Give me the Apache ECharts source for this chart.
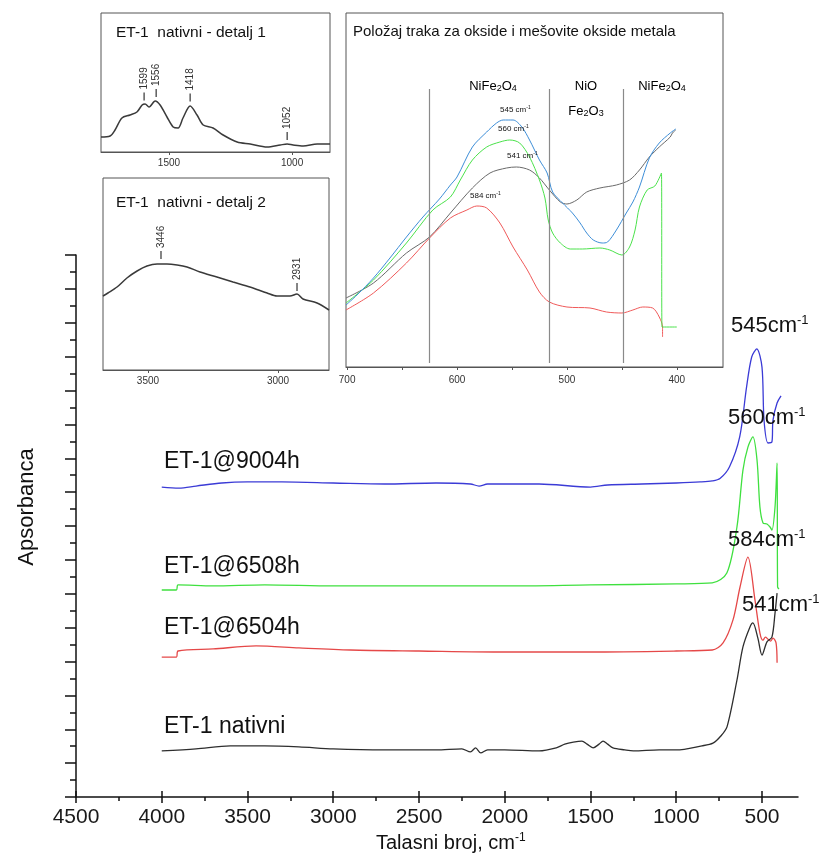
<!DOCTYPE html>
<html>
<head>
<meta charset="utf-8">
<script src="https://cdn.jsdelivr.net/npm/echarts@6.0.0/dist/echarts.min.js"></script>
<style>
  html, body { margin: 0; padding: 0; background: #fff; }
  #chart { width: 823px; height: 854px; }
</style>
</head>
<body>
<div id="chart"></div>
<script>
// ---- main spectra (x = wavenumber cm-1, y = stacked absorbance, arbitrary units) ----
const wn9004 = [4000, 3900, 3800, 3650, 3500, 3300, 3000, 2700, 2400, 2200, 2150, 2100, 1800, 1500, 1400, 1200, 1000, 860, 790, 745, 690, 630, 590, 560, 530, 500, 488, 465, 442, 436, 412, 389];
const abs9004 = [9.15, 9.12, 9.18, 9.27, 9.30, 9.30, 9.27, 9.24, 9.27, 9.24, 9.18, 9.24, 9.24, 9.15, 9.21, 9.24, 9.27, 9.30, 9.33, 9.40, 9.74, 10.63, 12.10, 12.99, 13.23, 12.69, 11.12, 10.45, 10.48, 11.12, 11.63, 11.84];

const wn6508 = [4000, 3915, 3905, 3700, 3400, 3000, 2500, 2000, 1500, 1000, 790, 705, 646, 611, 582, 553, 529, 512, 494, 471, 453, 442, 424, 412, 409, 401];
const abs6508 = [6.11, 6.11, 6.26, 6.23, 6.26, 6.23, 6.23, 6.23, 6.26, 6.29, 6.32, 6.61, 7.97, 9.65, 10.33, 10.63, 9.95, 8.56, 8.09, 8.06, 7.97, 7.88, 8.56, 9.86, 6.20, 6.14];

const wn6504 = [4000, 3915, 3905, 3700, 3450, 3200, 2900, 2500, 2000, 1500, 1000, 790, 727, 669, 628, 582, 541, 512, 494, 480, 465, 450, 436, 418, 412];
const abs6504 = [4.13, 4.13, 4.31, 4.37, 4.46, 4.40, 4.34, 4.31, 4.28, 4.28, 4.31, 4.34, 4.55, 5.23, 6.20, 7.08, 5.82, 4.84, 4.63, 4.72, 4.66, 4.60, 4.69, 4.55, 3.96];

const wnNativ = [4000, 3800, 3600, 3400, 3200, 3000, 2700, 2400, 2250, 2200, 2170, 2140, 2100, 2000, 1800, 1700, 1650, 1600, 1550, 1520, 1485, 1450, 1427, 1400, 1369, 1300, 1250, 1100, 1000, 850, 786, 740, 704, 646, 611, 570, 553, 524, 500, 471, 442, 424, 412];
const absNativ = [1.36, 1.42, 1.51, 1.51, 1.48, 1.42, 1.39, 1.39, 1.42, 1.33, 1.45, 1.30, 1.39, 1.39, 1.36, 1.45, 1.56, 1.62, 1.65, 1.56, 1.45, 1.56, 1.65, 1.56, 1.45, 1.39, 1.36, 1.39, 1.39, 1.51, 1.59, 1.80, 2.07, 3.45, 4.43, 5.02, 5.14, 4.69, 4.19, 4.58, 4.72, 5.43, 6.02];

const mainTicks = [4500, 4000, 3500, 3000, 2500, 2000, 1500, 1000, 500];
const mainMinorTicks = [4250, 3750, 3250, 2750, 2250, 1750, 1250, 750];

// ---- inset: detalj 1 ----
const wnDet1 = [1776, 1739, 1719, 1691, 1658, 1630, 1609, 1597, 1581, 1556, 1536, 1508, 1483, 1463, 1443, 1414, 1386, 1361, 1321, 1280, 1223, 1170, 1101, 1048, 1020, 996, 955, 898, 846];
const absDet1 = [15, 16, 22, 34, 37, 40, 47, 48, 45, 51, 47, 35, 25, 24, 34, 46, 37, 27, 24, 17, 10, 8, 5, 7, 8, 7, 6, 8, 8];
const det1Ticks = [1500, 1000];
const det1PeakLabels = ['1599', '1556', '1418', '1052'];
const det1PeakWn = [1601, 1552, 1414, 1020];
const det1PeakY = [55.5, 59, 54.5, 16];

// ---- inset: detalj 2 ----
const wnDet2 = [3673, 3654, 3619, 3581, 3542, 3504, 3465, 3427, 3388, 3350, 3300, 3235, 3173, 3108, 3042, 3004, 2954, 2927, 2904, 2850, 2804];
const absDet2 = [74, 77, 83, 92, 99, 104, 106, 106, 105, 103, 98, 93, 88, 83, 77, 74, 74, 76, 71, 67, 60];
const det2Ticks = [3500, 3000];
const det2PeakLabels = ['3446', '2931'];
const det2PeakWn = [3450, 2927];
const det2PeakY = [115, 83];

// ---- inset: oxide band positions ----
const wnOxBlue = [701, 691, 676, 661, 646, 631, 616, 606, 600, 586, 573, 564, 558, 549, 541, 534, 525, 518, 513, 504, 495, 488, 482, 476, 468, 463, 455, 446, 440, 434, 425, 416, 406, 401];
const absOxBlue = [62, 72, 89, 109, 130, 150, 168, 182, 190, 220, 235, 244, 247, 247, 240, 227, 207, 194, 175, 164, 154, 144, 134, 127, 124, 125, 137, 154, 165, 180, 209, 224, 234, 238];
const wnOxGreen = [701, 676, 646, 622, 606, 597, 586, 573, 561, 552, 543, 534, 525, 520, 517, 513, 506, 497, 486, 470, 461, 450, 443, 438, 434, 427, 420, 414, 413.5, 400];
const absOxGreen = [64, 87, 124, 157, 170, 187, 207, 220, 225, 227, 224, 210, 187, 169, 147, 134, 124, 118, 118, 119, 117, 112, 120, 137, 160, 177, 181, 194, 40, 40];
const wnOxGray = [701, 676, 646, 625, 606, 586, 570, 555, 546, 534, 525, 516, 506, 500, 491, 482, 470, 455, 443, 434, 425, 416, 406, 404, 401];
const absOxGray = [69, 84, 114, 130, 154, 179, 194, 199, 200, 197, 189, 177, 165, 163, 167, 175, 179, 182, 187, 197, 210, 220, 230, 234, 237];
const wnOxRed = [701, 676, 646, 625, 606, 591, 582, 573, 561, 549, 536, 525, 516, 500, 479, 464, 450, 440, 431, 422, 416, 413, 413];
const absOxRed = [57, 74, 104, 129, 149, 157, 161, 159, 144, 120, 97, 75, 65, 60, 59, 55, 54, 57, 60, 59, 50, 40, 30];
const oxTicks = [700, 650, 600, 550, 500, 450, 400];
const oxLabels = [700, 600, 500, 400];
const oxBounds = [625, 516, 449];

const FONT = '"Liberation Sans", Arial, Helvetica, sans-serif';
const pts = (xs, ys) => xs.map((x, i) => [x, ys[i]]);
const plain = v => String(v);

const chart = echarts.init(document.getElementById('chart'), null, { renderer: 'canvas' });

const mainLine = (name, xs, ys, color) => ({
  name, type: 'line', xAxisIndex: 0, yAxisIndex: 0,
  data: pts(xs, ys), symbol: 'none', smooth: 0.3,
  lineStyle: { color, width: 1.3 }
});

const insetLine = (name, xs, ys, color, xi, yi, width) => ({
  name, type: 'line', xAxisIndex: xi, yAxisIndex: yi,
  data: pts(xs, ys), symbol: 'none', smooth: 0.3,
  lineStyle: { color, width: width || 1 }
});

const peakMarks = (labels, xs, ys) => ({
  symbol: 'rect', symbolSize: [1.2, 8], silent: true,
  itemStyle: { color: '#333' },
  label: {
    show: true, position: 'top', distance: 3, rotate: 90,
    align: 'left', verticalAlign: 'middle',
    fontSize: 10, color: '#333', fontFamily: FONT,
    formatter: p => p.name
  },
  data: labels.map((l, i) => ({ name: l, coord: [xs[i], ys[i]] }))
});

const insetX = (gi, min, max, ticks, labels, margin) => ({
  gridIndex: gi, type: 'value', min, max, inverse: true, position: 'bottom',
  axisLine: { lineStyle: { color: '#555', width: 1 } },
  axisTick: { length: 3, lineStyle: { color: '#555' }, customValues: ticks },
  axisLabel: { customValues: labels, formatter: plain, fontSize: 10, color: '#333', margin, fontFamily: FONT },
  splitLine: { show: false }
});

const insetY = (gi, max) => ({
  gridIndex: gi, type: 'value', min: 0, max, show: false, splitLine: { show: false }
});

const supText = (x, y, base, sup, size) => ({
  type: 'text', x, y, z: 100,
  style: {
    text: '{n|' + base + '}{s|' + sup + '}',
    textVerticalAlign: 'middle', fill: '#111',
    rich: {
      n: { fontSize: size, fontFamily: FONT, lineHeight: size + 2, color: '#111' },
      s: { fontSize: Math.round(size * 0.58), fontFamily: FONT, verticalAlign: 'top', lineHeight: Math.round(size * 0.6), color: '#111' }
    }
  }
});

const plainText = (x, y, text, size, opts) => ({
  type: 'text', x, y, z: 100,
  style: Object.assign({
    text, fontSize: size, fontFamily: FONT, fill: '#111',
    textVerticalAlign: 'middle', textAlign: 'left'
  }, opts || {})
});

const formula = (x, y, parts, size) => ({
  type: 'text', x, y, z: 100,
  style: {
    text: parts, textAlign: 'center', textVerticalAlign: 'middle',
    rich: {
      n: { fontSize: size, fontFamily: FONT, lineHeight: size + 2, color: '#111' },
      b: { fontSize: Math.round(size * 0.7), fontFamily: FONT, verticalAlign: 'bottom', lineHeight: Math.round(size * 0.7), color: '#111' }
    }
  }
});

const mainTickAxis = (ticks, inside, len) => ({
  gridIndex: 0, type: 'value', min: 290, max: 4500, inverse: true, position: 'bottom',
  axisLine: { show: false },
  axisTick: { inside, length: len, lineStyle: { color: '#111', width: 1.5 }, customValues: ticks },
  axisLabel: { show: false }, splitLine: { show: false }
});

const option = {
  animation: false,
  backgroundColor: '#fff',
  textStyle: { fontFamily: FONT },
  grid: [
    { left: 76, top: 255, width: 722, height: 542 },
    { left: 101, top: 13, width: 229, height: 139, show: true, borderColor: '#555', borderWidth: 1, backgroundColor: '#fff' },
    { left: 103, top: 178, width: 226, height: 192, show: true, borderColor: '#555', borderWidth: 1, backgroundColor: '#fff' },
    { left: 346, top: 13, width: 377, height: 354, show: true, borderColor: '#555', borderWidth: 1, backgroundColor: '#fff' }
  ],
  xAxis: [
    {
      gridIndex: 0, type: 'value', min: 290, max: 4500, inverse: true, position: 'bottom',
      axisLine: { lineStyle: { color: '#111', width: 1.5 } },
      axisTick: { length: 6, lineStyle: { color: '#111', width: 1.5 }, customValues: mainTicks },
      axisLabel: { customValues: mainTicks, formatter: plain, fontSize: 21, color: '#1a1a1a', margin: 10, fontFamily: FONT },
      splitLine: { show: false }
    },
    mainTickAxis(mainTicks, true, 6),
    mainTickAxis(mainMinorTicks, false, 4),
    insetX(1, 846, 1776, det1Ticks, det1Ticks, 6),
    insetX(2, 2804, 3673, det2Ticks, det2Ticks, 6),
    insetX(3, 358, 701, oxTicks, oxLabels, 8)
  ],
  yAxis: [
    {
      gridIndex: 0, type: 'value', min: 0, max: 16, interval: 1,
      axisLine: { show: true, lineStyle: { color: '#111', width: 1.5 } },
      axisTick: { show: true, length: 11, lineStyle: { color: '#111', width: 1.5 } },
      minorTick: { show: true, splitNumber: 2, length: 6, lineStyle: { color: '#111', width: 1.5 } },
      axisLabel: { show: false },
      splitLine: { show: false }, minorSplitLine: { show: false }
    },
    insetY(1, 139),
    insetY(2, 192),
    insetY(3, 354)
  ],
  series: [
    mainLine('ET-1@9004h', wn9004, abs9004, '#3b3bd6'),
    mainLine('ET-1@6508h', wn6508, abs6508, '#3fe03f'),
    mainLine('ET-1@6504h', wn6504, abs6504, '#e54848'),
    mainLine('ET-1 nativni', wnNativ, absNativ, '#2e2e2e'),
    Object.assign(insetLine('detalj 1', wnDet1, absDet1, '#3a3a3a', 3, 1, 1.5), {
      markPoint: peakMarks(det1PeakLabels, det1PeakWn, det1PeakY)
    }),
    Object.assign(insetLine('detalj 2', wnDet2, absDet2, '#3a3a3a', 4, 2, 1.5), {
      markPoint: peakMarks(det2PeakLabels, det2PeakWn, det2PeakY)
    }),
    Object.assign(insetLine('ox gray', wnOxGray, absOxGray, '#6a6a6a', 5, 3), {
      markLine: {
        symbol: 'none', silent: true, label: { show: false },
        lineStyle: { color: '#8a8a8a', width: 1.2, type: 'solid' },
        data: oxBounds.map(b => [{ coord: [b, 4] }, { coord: [b, 278] }])
      }
    }),
    insetLine('ox red', wnOxRed, absOxRed, '#f05a5a', 5, 3),
    insetLine('ox green', wnOxGreen, absOxGreen, '#4be24b', 5, 3),
    insetLine('ox blue', wnOxBlue, absOxBlue, '#3d8ed8', 5, 3)
  ],
  graphic: [
    // main series names
    plainText(164, 462, 'ET-1@9004h', 23),
    plainText(164, 567, 'ET-1@6508h', 23),
    plainText(164, 628, 'ET-1@6504h', 23),
    plainText(164, 727, 'ET-1 nativni', 23),
    // main peak labels
    supText(731, 326, '545cm', '-1', 22),
    supText(728, 418, '560cm', '-1', 22),
    supText(728, 540, '584cm', '-1', 22),
    supText(742, 605, '541cm', '-1', 22),
    // axis names
    plainText(27, 507, 'Apsorbanca', 22, { textAlign: 'center' }),
    supText(376, 843, 'Talasni broj, cm', '-1', 20),
    // inset titles
    plainText(116, 33, 'ET-1  nativni - detalj 1', 15.5),
    plainText(116, 203, 'ET-1  nativni - detalj 2', 15.5),
    plainText(353, 32, 'Položaj traka za okside i mešovite okside metala', 15),
    // oxide regions
    formula(493, 86, '{n|NiFe}{b|2}{n|O}{b|4}', 13),
    formula(586, 86, '{n|NiO}', 13),
    formula(586, 111, '{n|Fe}{b|2}{n|O}{b|3}', 13),
    formula(662, 86, '{n|NiFe}{b|2}{n|O}{b|4}', 13),
    // inset curve labels
    supText(500, 110, '545 cm', '-1', 8),
    supText(498, 129, '560 cm', '-1', 8),
    supText(507, 156, '541 cm', '-1', 8),
    supText(470, 196, '584 cm', '-1', 8)
  ]
};

// rotate y axis name
option.graphic[8].rotation = Math.PI / 2;

chart.setOption(option);
</script>
</body>
</html>
